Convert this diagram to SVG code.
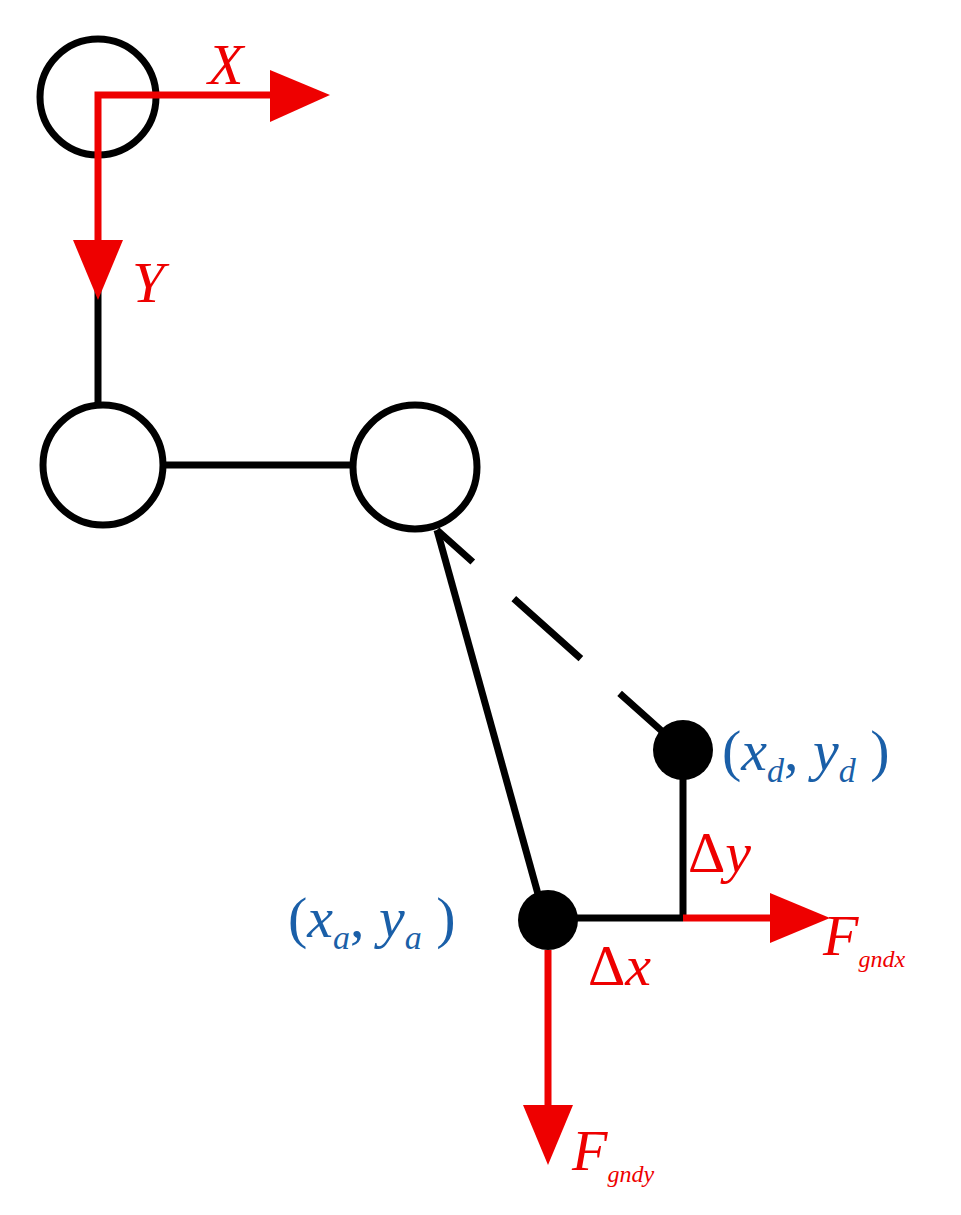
<svg xmlns="http://www.w3.org/2000/svg" width="961" height="1215" viewBox="0 0 961 1215">
<style>
.k{stroke:#000;stroke-width:7;fill:none}
.j{stroke:#000;stroke-width:7;fill:#fff}
.r{stroke:#e00;stroke-width:7;fill:none}
.ra{fill:#e00}
.t{font-family:"Liberation Serif",serif;font-style:italic;font-size:58px}
.tr{fill:#e00}
.tb{fill:#1a5fa8}
</style>
<rect width="961" height="1215" fill="#fff"/>
<g id="connectors">
<line class="k" x1="98" y1="290" x2="98" y2="405"/>
<line class="k" x1="163" y1="465" x2="355" y2="465"/>
<line class="k" x1="437" y1="530" x2="543" y2="912"/>
<line class="k" stroke-width="8" x1="437" y1="530" x2="683" y2="750" stroke-dasharray="48,55,90,52,200"/>
<line class="k" x1="683" y1="750" x2="683" y2="918"/>
<line class="k" x1="548" y1="918" x2="683" y2="918"/>
</g>
<g id="joint1"><circle class="j" cx="98" cy="97" r="58"/></g>
<g id="joint2"><circle class="j" cx="103" cy="465" r="60"/></g>
<g id="joint3"><circle class="j" cx="415" cy="467" r="62"/></g>
<g id="pointD"><circle cx="683" cy="750" r="30"/></g>
<g id="pointA"><circle cx="548" cy="920" r="30"/></g>
<g id="axes">
<polyline class="r" points="275,95 98,95 98,245"/>
<polygon class="ra" points="270,70 330,95 270,122"/>
<polygon class="ra" points="73,240 98,300 123,240"/>
<text class="t tr" x="208" y="84">X</text>
<text class="t tr" x="132" y="302">Y</text>
</g>
<g id="forces">
<line class="r" x1="683" y1="918" x2="775" y2="918"/>
<polygon class="ra" points="770,893 830,918 770,943"/>
<line class="r" x1="548" y1="950" x2="548" y2="1110"/>
<polygon class="ra" points="523,1105 548,1165 573,1105"/>
<text class="t tr" x="823" y="955">F<tspan font-size="24" dy="12">gndx</tspan></text>
<text class="t tr" x="572" y="1170">F<tspan font-size="24" dy="12">gndy</tspan></text>
<text class="t tr" x="688" y="872"><tspan font-style="normal">Δ</tspan>y</text>
<text class="t tr" x="588" y="985"><tspan font-style="normal">Δ</tspan>x</text>
</g>
<g id="labels">
<text class="t tb" x="722" y="770" font-size="62"><tspan font-style="normal">(</tspan>x<tspan font-size="34" dy="12">d</tspan><tspan dy="-12" font-style="normal">,  </tspan>y<tspan font-size="34" dy="12">d</tspan><tspan dy="-12" font-style="normal"> )</tspan></text>
<text class="t tb" x="288" y="937" font-size="62"><tspan font-style="normal">(</tspan>x<tspan font-size="34" dy="12">a</tspan><tspan dy="-12" font-style="normal">,  </tspan>y<tspan font-size="34" dy="12">a</tspan><tspan dy="-12" font-style="normal"> )</tspan></text>
</g>
</svg>
